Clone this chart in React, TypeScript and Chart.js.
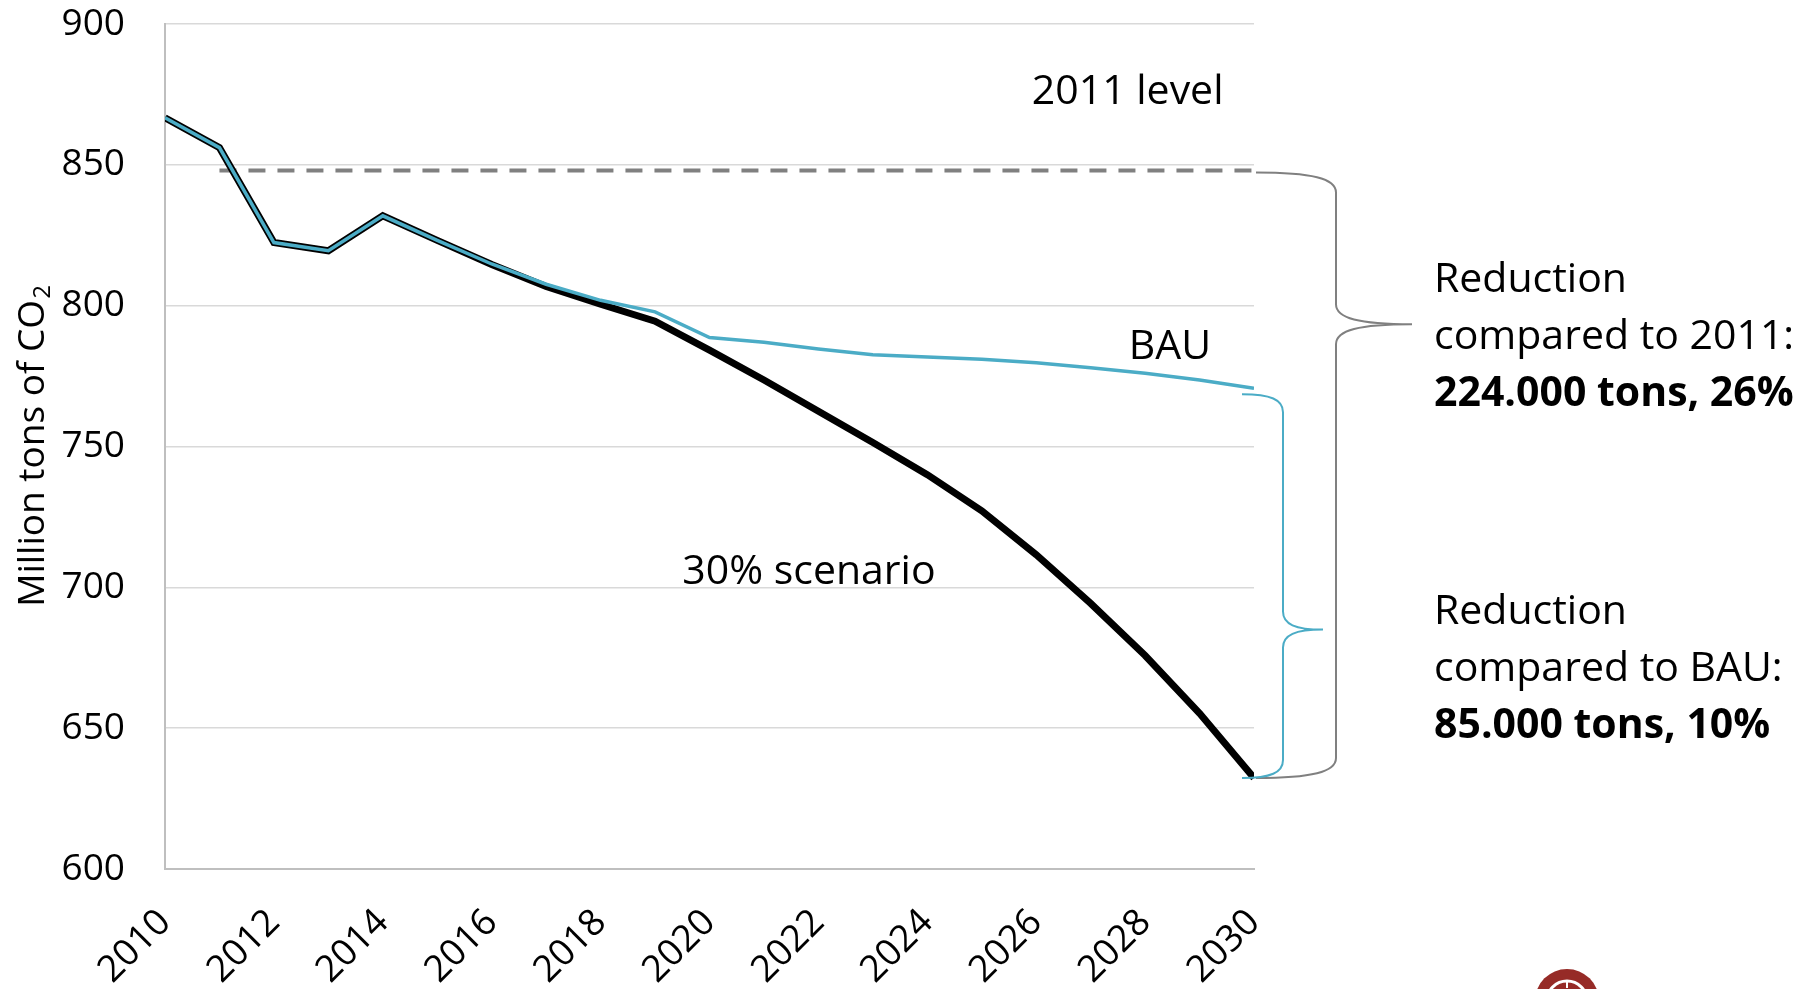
import React, { useEffect, useRef } from "react";
import { Chart, registerables } from "chart.js";
Chart.register(...registerables);

const years = [2010, 2011, 2012, 2013, 2014, 2015, 2016, 2017, 2018, 2019, 2020, 2021, 2022, 2023, 2024, 2025, 2026, 2027, 2028, 2029, 2030];
const bau = [866.7, 856.1, 822.4, 819.5, 831.9, 823.2, 814.8, 807.6, 801.9, 797.8, 788.7, 787.0, 784.6, 782.6, 781.8, 781.0, 779.7, 778.0, 776.0, 773.6, 770.7];
const scenario30 = [866.7, 856.1, 822.4, 819.5, 831.9, 823.2, 814.6, 806.8, 800.5, 794.5, 784.2, 773.6, 762.5, 751.4, 740.0, 727.2, 711.6, 694.3, 675.8, 655.3, 632.3];
const level2011 = 848;
const levelYears = [2011, 2030];
const yTicks = [600, 650, 700, 750, 800, 850, 900];
const xTickStep = 2;

const FONT = '"Open Sans", "Noto Sans", sans-serif';
const BLUE = "#4bacc6";

function brace(ctx: CanvasRenderingContext2D, x0: number, x1: number, x2: number, yTop: number, yTip: number, yBot: number, r: number) {
  ctx.beginPath();
  ctx.moveTo(x0, yTop);
  ctx.bezierCurveTo(x0 + (x1 - x0) * 0.7, yTop, x1, yTop + r * 0.3, x1, yTop + r);
  ctx.lineTo(x1, yTip - r);
  ctx.bezierCurveTo(x1, yTip - r * 0.3, x1 + (x2 - x1) * 0.3, yTip, x2, yTip);
  ctx.moveTo(x2, yTip);
  ctx.bezierCurveTo(x1 + (x2 - x1) * 0.3, yTip, x1, yTip + r * 0.3, x1, yTip + r);
  ctx.lineTo(x1, yBot - r);
  ctx.bezierCurveTo(x1, yBot - r * 0.3, x0 + (x1 - x0) * 0.7, yBot, x0, yBot);
  ctx.stroke();
}

const annotPlugin = {
  id: "annot",
  afterDraw(chart: any) {
    const { ctx, chartArea, scales } = chart;
    const x = scales.x;
    const y = scales.y;
    ctx.save();
    // y-axis title with subscript
    ctx.save();
    ctx.translate(33, (chartArea.top + chartArea.bottom) / 2);
    ctx.rotate(-Math.PI / 2);
    ctx.fillStyle = "#000";
    ctx.textBaseline = "middle";
    ctx.textAlign = "left";
    const main = "Million tons of CO";
    ctx.font = `37px ${FONT}`;
    const w1 = ctx.measureText(main).width;
    ctx.font = `24px ${FONT}`;
    const w2 = ctx.measureText("2").width;
    const start = -(w1 + w2) / 2;
    ctx.font = `37px ${FONT}`;
    ctx.fillText(main, start, 0);
    ctx.font = `24px ${FONT}`;
    ctx.fillText("2", start + w1 + 1, 10);
    ctx.restore();

    // in-plot labels
    ctx.fillStyle = "#000";
    ctx.textBaseline = "middle";
    ctx.textAlign = "left";
    ctx.font = `41px ${FONT}`;
    ctx.fillText("2011 level", x.getPixelForValue(2025.92), y.getPixelForValue(875.8));
    ctx.fillText("BAU", x.getPixelForValue(2027.7), y.getPixelForValue(785.3));
    ctx.fillText("30% scenario", x.getPixelForValue(2019.5), y.getPixelForValue(705.4));

    // right-hand texts
    const tx = 1434;
    const lh = 57;
    let ty = 280;
    ctx.font = `41px ${FONT}`;
    ctx.fillText("Reduction", tx, ty);
    ctx.fillText("compared to 2011:", tx, ty + lh);
    ctx.font = `bold 41px ${FONT}`;
    ctx.fillText("224.000 tons, 26%", tx, ty + 2 * lh);
    ty = 612;
    ctx.font = `41px ${FONT}`;
    ctx.fillText("Reduction", tx, ty);
    ctx.fillText("compared to BAU:", tx, ty + lh);
    ctx.font = `bold 41px ${FONT}`;
    ctx.fillText("85.000 tons, 10%", tx, ty + 2 * lh);

    // braces
    const right = chartArea.right;
    const yEnd = y.getPixelForValue(scenario30[scenario30.length - 1]);
    ctx.lineWidth = 2;
    ctx.strokeStyle = "#808080";
    brace(ctx, right + 2, right + 82, right + 158, y.getPixelForValue(level2011) + 2, y.getPixelForValue(793.4), yEnd, 20);
    ctx.strokeStyle = BLUE;
    brace(ctx, right - 12, right + 29, right + 69, y.getPixelForValue(bau[bau.length - 1]) + 6, y.getPixelForValue(685), yEnd, 18);

    // logo (partially visible)
    ctx.fillStyle = "#962b27";
    ctx.beginPath();
    ctx.arc(1567, 1001, 32, 0, Math.PI * 2);
    ctx.fill();
    ctx.strokeStyle = "#fff";
    ctx.lineWidth = 3;
    ctx.beginPath();
    ctx.arc(1567, 1001, 20, 0, Math.PI * 2);
    ctx.stroke();
    ctx.lineWidth = 2;
    ctx.beginPath();
    ctx.moveTo(1567, 981);
    ctx.lineTo(1567, 988);
    ctx.stroke();
    ctx.restore();
  },
};

export default function App() {
  const ref = useRef<HTMLCanvasElement>(null);
  useEffect(() => {
    if (!ref.current) return;
    const chart = new Chart(ref.current, {
      type: "line",
      data: {
        datasets: [
          {
            label: "BAU",
            data: years.map((yr, i) => ({ x: yr, y: bau[i] })),
            borderColor: BLUE,
            borderWidth: 3.5,
            pointRadius: 0,
            tension: 0,
          },
          {
            label: "30% scenario",
            data: years.map((yr, i) => ({ x: yr, y: scenario30[i] })),
            borderColor: "#000",
            borderWidth: 7,
            pointRadius: 0,
            tension: 0,
          },
          {
            label: "2011 level",
            data: levelYears.map((yr) => ({ x: yr, y: level2011 })),
            borderColor: "#808080",
            borderWidth: 4,
            borderDash: [17, 12],
            pointRadius: 0,
          },
        ],
      },
      options: {
        animation: false,
        responsive: false,
        layout: { padding: { top: 24, right: 558, left: 0, bottom: 0 } },
        plugins: { legend: { display: false }, tooltip: { enabled: false } },
        scales: {
          x: {
            type: "linear",
            min: 2010,
            max: 2030,
            grid: { display: false, drawTicks: false },
            border: { display: true, color: "#bfbfbf", width: 2 },
            ticks: {
              stepSize: xTickStep,
              minRotation: 45,
              maxRotation: 45,
              padding: 32,
              color: "#000",
              font: { family: FONT, size: 37 },
              callback: (v: any) => String(v),
            },
            afterFit: (s: any) => {
              s.height = 120;
              s.paddingLeft = 0;
              s.paddingRight = 0;
            },
          },
          y: {
            min: yTicks[0],
            max: yTicks[yTicks.length - 1],
            grid: { color: "#d9d9d9", lineWidth: 1.5, drawTicks: false },
            border: { display: true, color: "#bfbfbf", width: 2 },
            ticks: {
              stepSize: 50,
              padding: 40,
              color: "#000",
              font: { family: FONT, size: 37 },
            },
            afterFit: (s: any) => {
              s.width = 165;
              s.paddingTop = 0;
              s.paddingBottom = 0;
            },
          },
        },
      },
      plugins: [annotPlugin],
    } as any);
    return () => chart.destroy();
  }, []);
  return (
    <div style={{ position: "fixed", left: 0, top: 0, width: 1812, height: 989, background: "#fff" }}>
      <canvas ref={ref} width={1812} height={989} style={{ display: "block" }} />
    </div>
  );
}
